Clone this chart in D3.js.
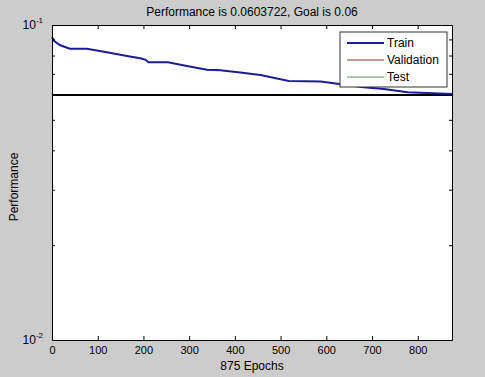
<!DOCTYPE html>
<html>
<head>
<meta charset="utf-8">
<script src="https://cdn.jsdelivr.net/npm/d3@7"></script>
<style>
  body { margin: 0; background: #cccccc; }
  svg { display: block; font-family: "Liberation Sans", Arial, sans-serif; }
  .axis path { stroke: #000; }
  .axis line { stroke: #000; }
  .axis text { font-size: 11px; fill: #000; font-family: "Liberation Sans", Arial, sans-serif; }
</style>
</head>
<body>
<div id="chart"></div>
<script>
// Train performance (epoch, mse)
const trainEpochs = [0, 5, 17, 39, 76, 120, 164, 193, 205, 211, 254, 295, 339, 368, 412, 456, 518, 588, 632, 682, 726, 778, 875];
const trainValues = [0.0914, 0.0890, 0.0864, 0.0841, 0.0841, 0.0819, 0.0797, 0.0784, 0.0775, 0.0761, 0.0761, 0.0741, 0.0721, 0.0718, 0.0707, 0.0694, 0.0664, 0.0662, 0.0648, 0.0634, 0.0626, 0.0612, 0.0604];
const goal = 0.06;
const epochs = 875;
const xTicks = [0, 100, 200, 300, 400, 500, 600, 700, 800];
const yMinorTicks = [0.02, 0.03, 0.04, 0.05, 0.06, 0.07, 0.08, 0.09];
const yMajorTicks = [{ v: 0.1, exp: "-1" }, { v: 0.01, exp: "-2" }];
const legendItems = [
    { name: "Train", color: "#1c1c96", width: 2 },
    { name: "Validation", color: "#8a3a2a", width: 1 },
    { name: "Test", color: "#5f8f5f", width: 1 }
];

const W = 485, H = 377;
const margin = { top: 25, right: 33, bottom: 37, left: 52 };

const svg = d3.select("#chart").append("svg")
    .attr("width", W)
    .attr("height", H);

svg.append("rect").attr("width", W).attr("height", H).attr("fill", "#cccccc");

const x = d3.scaleLinear().domain([0, epochs]).range([margin.left, W - margin.right]);
const y = d3.scaleLog().domain([0.01, 0.1]).range([H - margin.bottom, margin.top]);

// plot area
svg.append("rect")
    .attr("x", x(0)).attr("y", y(0.1))
    .attr("width", x(epochs) - x(0))
    .attr("height", y(0.01) - y(0.1))
    .attr("fill", "#fff");

// goal line
svg.append("line")
    .attr("x1", x(0)).attr("x2", x(epochs))
    .attr("y1", y(goal)).attr("y2", y(goal))
    .attr("stroke", "#000").attr("stroke-width", 2);

// train curve
const trainData = trainEpochs.map((e, i) => ({ e: e, v: trainValues[i] }));
const line = d3.line().x(d => x(d.e)).y(d => y(d.v));
svg.append("path")
    .datum(trainData)
    .attr("d", line)
    .attr("fill", "none")
    .attr("stroke", "#1c1c96")
    .attr("stroke-width", 2);

// axes: ticks point inward like matlab
svg.append("g").attr("class", "axis")
    .attr("transform", `translate(0,${y(0.01)})`)
    .call(d3.axisBottom(x).tickValues(xTicks).tickSize(-4).tickSizeOuter(0).tickPadding(6));

svg.append("g").attr("class", "axis")
    .attr("transform", `translate(0,${y(0.1)})`)
    .call(d3.axisTop(x).tickValues(xTicks).tickSize(-4).tickSizeOuter(0).tickFormat(""));

svg.append("g").attr("class", "axis")
    .attr("transform", `translate(${x(0)},0)`)
    .call(d3.axisLeft(y).tickValues(yMinorTicks).tickSize(-3).tickSizeOuter(0).tickFormat(""));

svg.append("g").attr("class", "axis")
    .attr("transform", `translate(${x(epochs)},0)`)
    .call(d3.axisRight(y).tickValues(yMinorTicks).tickSize(-3).tickSizeOuter(0).tickFormat(""));

// log decade labels
yMajorTicks.forEach(t => {
    const lab = svg.append("text")
        .attr("x", x(0) - 9)
        .attr("y", y(t.v) + 4)
        .attr("text-anchor", "end")
        .attr("font-size", 12);
    lab.append("tspan").text("10");
    lab.append("tspan").attr("dy", -6).attr("font-size", 8).text(t.exp);
});

// title and axis labels
svg.append("text")
    .attr("x", (x(0) + x(epochs)) / 2)
    .attr("y", 16)
    .attr("text-anchor", "middle")
    .attr("font-size", 12)
    .text("Performance is 0.0603722, Goal is 0.06");

svg.append("text")
    .attr("x", (x(0) + x(epochs)) / 2)
    .attr("y", 370)
    .attr("text-anchor", "middle")
    .attr("font-size", 12)
    .text(epochs + " Epochs");

svg.append("text")
    .attr("transform", `translate(18,187) rotate(-90)`)
    .attr("text-anchor", "middle")
    .attr("font-size", 12)
    .text("Performance");

// legend
const legend = svg.append("g").attr("transform", "translate(340,32)");
legend.append("rect")
    .attr("width", 107).attr("height", 55)
    .attr("fill", "#fff").attr("stroke", "#333").attr("stroke-width", 1);
legendItems.forEach((d, i) => {
    const cy = 11 + i * 17;
    legend.append("line")
        .attr("x1", 7).attr("x2", 44)
        .attr("y1", cy).attr("y2", cy)
        .attr("stroke", d.color).attr("stroke-width", d.width);
    legend.append("text")
        .attr("x", 47).attr("y", cy + 4)
        .attr("font-size", 12)
        .text(d.name);
});
</script>
</body>
</html>
